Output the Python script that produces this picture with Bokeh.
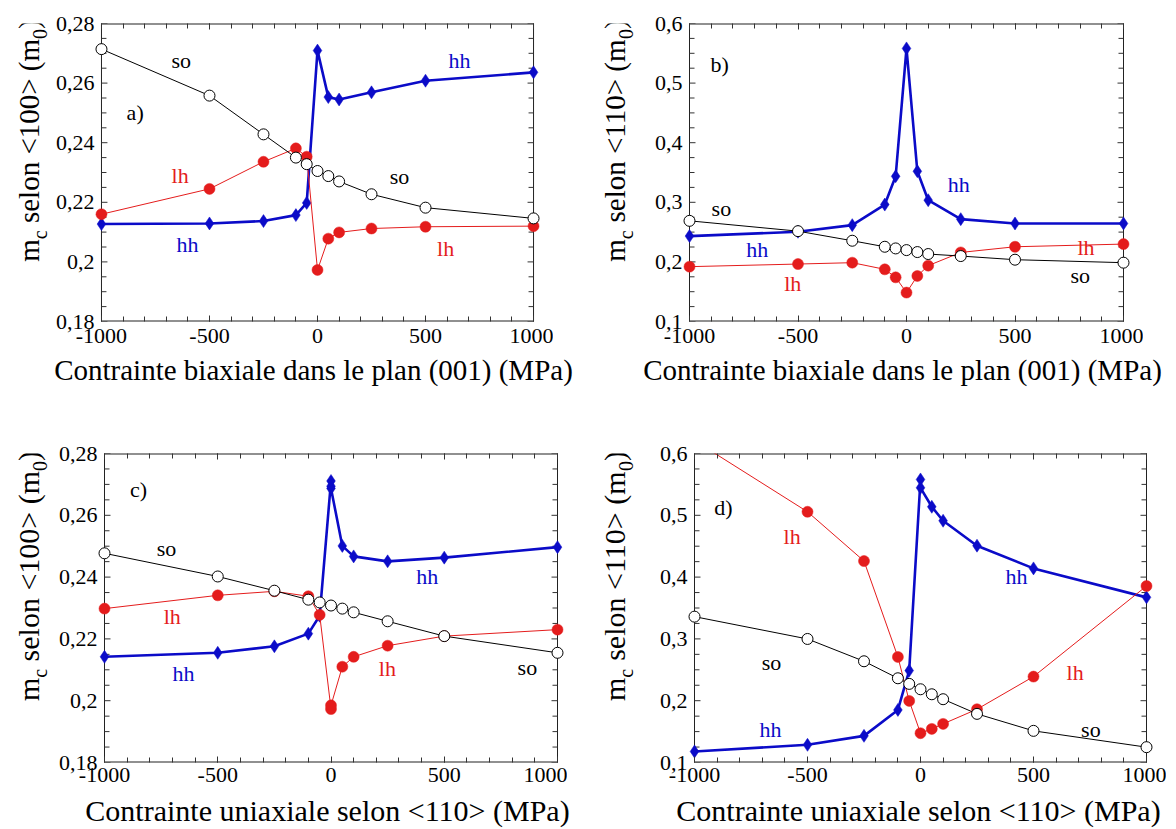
import math
from bokeh.plotting import figure
from bokeh.models import FixedTicker, LinearAxis, Label, CustomJSTickFormatter, Range1d
from bokeh.layouts import column, row
from bokeh.embed import file_html
from bokeh.resources import INLINE

FONT = "Liberation Serif"
BLUE = "#0b0bc8"
RED = "#e41c1c"
FRAME = "#222222"
TICK = "#333333"

# ---------------- data ----------------
stress = [-1000, -500, -250, -100, -50, 0, 50, 100, 250, 500, 1000]

# (a) biaxial stress in (001), mass along <100>
a_so = [0.2714, 0.2558, 0.2428, 0.2350, 0.2328, 0.2305, 0.2288, 0.2270, 0.2227, 0.2182, 0.2146]
a_lh = [0.2160, 0.2245, 0.2336, 0.2381, 0.2353, 0.1973, 0.2078, 0.2099, 0.2112, 0.2118, 0.2120]
a_hh = [0.2127, 0.2129, 0.2137, 0.2157, 0.2198, 0.2709, 0.2553, 0.2545, 0.2569, 0.2608, 0.2636]

# (b) biaxial stress in (001), mass along <110>
b_so = [0.2689, 0.2516, 0.2355, 0.2254, 0.2226, 0.2198, 0.2165, 0.2132, 0.2098, 0.2037, 0.1987]
b_lh = [0.1920, 0.1964, 0.1987, 0.1875, 0.1741, 0.1485, 0.1764, 0.1937, 0.2159, 0.2254, 0.2299]
b_hh = [0.2433, 0.2505, 0.2617, 0.2962, 0.3436, 0.5582, 0.3520, 0.3035, 0.2717, 0.2644, 0.2644]

# (c) uniaxial stress along <110>, mass along <100>
c_so = [0.2477, 0.2402, 0.2356, 0.2327, 0.2318, 0.2308, 0.2298, 0.2286, 0.2257, 0.2209, 0.2155]
c_lh_x = [-1000, -500, -250, -100, -50, 0, 0, 50, 100, 250, 500, 1000]
c_lh = [0.2298, 0.2341, 0.2354, 0.2338, 0.2278, 0.1973, 0.1985, 0.2110, 0.2142, 0.2178, 0.2209, 0.2230]
c_hh_x = [-1000, -500, -250, -100, -50, 0, 0, 0, 50, 100, 250, 500, 1000]
c_hh = [0.2142, 0.2155, 0.2176, 0.2217, 0.2275, 0.2711, 0.2694, 0.2687, 0.2501, 0.2467, 0.2451, 0.2463, 0.2497]

# (d) uniaxial stress along <110>, mass along <110>
d_so = [0.3360, 0.2999, 0.2638, 0.2363, 0.2272, 0.2185, 0.2104, 0.2024, 0.1787, 0.1512, 0.1248]
d_lh = [0.6210, 0.5057, 0.4260, 0.2708, 0.1997, 0.1474, 0.1544, 0.1625, 0.1862, 0.2390, 0.3856]
d_hh_x = [-1000, -500, -250, -100, -50, 0, 0, 50, 100, 250, 500, 1000]
d_hh = [0.1178, 0.1286, 0.1431, 0.1851, 0.2487, 0.5580, 0.5445, 0.5138, 0.4912, 0.4508, 0.4141, 0.3672]

x_lim = (-1000, 1000)
x_major = [-1000, -500, 0, 500, 1000]
x_minor = [-1000, -900, -800, -700, -600, -500, -400, -300, -200, -100, 0,
           100, 200, 300, 400, 500, 600, 700, 800, 900, 1000]
y1_major = [0.18, 0.20, 0.22, 0.24, 0.26, 0.28]
y1_minor = [round(0.18 + 0.005 * i, 3) for i in range(21)]
y2_major = [0.1, 0.2, 0.3, 0.4, 0.5, 0.6]
y2_minor = [round(0.1 + 0.025 * i, 3) for i in range(21)]

title_biax = "Contrainte biaxiale dans le plan (001) (MPa)"
title_uniax = "Contrainte uniaxiale selon <110> (MPa)"

# Times/Liberation Serif advance widths (em) for title placement
WID = {'m': 0.778, 'c': 0.444, ' ': 0.25, 's': 0.389, 'e': 0.444, 'l': 0.278,
       'o': 0.5, 'n': 0.5, '<': 0.564, '>': 0.564, '1': 0.5, '0': 0.5,
       '(': 0.333, ')': 0.333}

PAD = 7  # px of extra frame on left/right so edge markers are not clipped


def tw(s, size):
    return sum(WID[ch] for ch in s) * size


def style_axis(ax, ticker, formatter, labels=True, standoff=7, ticks=True):
    ax.ticker = ticker
    ax.formatter = formatter
    ax.axis_line_color = None
    ax.major_tick_in = 6 if ticks else 0
    ax.major_tick_out = 0
    ax.minor_tick_in = 5 if ticks else 0
    ax.minor_tick_out = 0
    ax.major_tick_line_color = TICK if ticks else None
    ax.minor_tick_line_color = TICK if ticks else None
    ax.major_tick_line_width = 1
    ax.minor_tick_line_width = 1
    ax.major_label_text_font = FONT
    ax.major_label_text_color = "black"
    if labels:
        ax.major_label_text_font_size = "22px"
        ax.major_label_standoff = standoff
    else:
        ax.major_label_text_font_size = "1px"
        ax.major_label_standoff = 0


def blank(w, h):
    f = figure(width=w, height=h, min_border_left=0, min_border_right=0,
               min_border_top=0, min_border_bottom=0,
               x_range=Range1d(0, 1), y_range=Range1d(0, 1),
               x_axis_type=None, y_axis_type=None,
               output_backend="svg", toolbar_location=None, tools="")
    f.outline_line_color = None
    f.background_fill_color = "white"
    f.border_fill_color = "white"
    return f


def panel(wy, ycx, fw, fh, ml, mr, mt, mb, S, standoff,
          yr, ymaj, ymin, mid, notes, series):
    fwe = fw + 2 * PAD
    W = ml + fwe + mr
    H = mt + fh + mb
    ext = PAD * (x_lim[1] - x_lim[0]) / fw
    p = figure(width=W, height=H, min_border_left=ml, min_border_right=mr,
               min_border_top=mt, min_border_bottom=mb,
               x_range=Range1d(x_lim[0] - ext, x_lim[1] + ext), y_range=Range1d(*yr),
               output_backend="svg", toolbar_location=None, tools="")
    p.grid.visible = False
    p.outline_line_color = None
    p.background_fill_color = "white"
    p.border_fill_color = "white"

    xt = FixedTicker(ticks=x_major, minor_ticks=x_minor)
    yt = FixedTicker(ticks=ymaj, minor_ticks=ymin)
    style_axis(p.xaxis[0], xt, CustomJSTickFormatter(code="return String(tick);"),
               standoff=standoff)
    style_axis(p.yaxis[0], yt, CustomJSTickFormatter(
        code="return String(Math.round(tick*100)/100).replace('.', ',');"),
        standoff=max(0, 7 - PAD), ticks=False)
    top = LinearAxis()
    style_axis(top, xt, CustomJSTickFormatter(code="return '';"), labels=False)
    p.add_layout(top, "above")

    # plotting box (frame) and the left/right inside ticks
    dpx = (x_lim[1] - x_lim[0]) / fw
    p.segment(x0=[x_lim[0], x_lim[1]], y0=[yr[0], yr[0]], x1=[x_lim[0], x_lim[1]],
              y1=[yr[1], yr[1]], line_color=FRAME, line_width=1)
    p.segment(x0=[x_lim[0], x_lim[0]], y0=[yr[0], yr[1]], x1=[x_lim[1], x_lim[1]],
              y1=[yr[0], yr[1]], line_color=FRAME, line_width=2)
    tl = [6 if v in ymaj else 5 for v in ymin]
    p.segment(x0=[x_lim[0]] * len(ymin), y0=ymin,
              x1=[x_lim[0] + L * dpx for L in tl], y1=ymin, line_color=TICK, line_width=1)
    p.segment(x0=[x_lim[1]] * len(ymin), y0=ymin,
              x1=[x_lim[1] - L * dpx for L in tl], y1=ymin, line_color=TICK, line_width=1)

    # series: hh (bottom), lh, so (top)
    for xs, ys, kind in series:
        if kind == "hh":
            p.line(xs, ys, line_color=BLUE, line_width=2.6)
            p.scatter(xs, ys, marker="diamond", size=13, fill_color=BLUE,
                      line_color=BLUE, line_width=0.5)
        elif kind == "lh":
            p.line(xs, ys, line_color=RED, line_width=1)
            p.scatter(xs, ys, marker="circle", size=11, fill_color=RED,
                      line_color=RED, line_width=0.5)
        else:
            p.line(xs, ys, line_color="black", line_width=1)
            p.scatter(xs, ys, marker="circle", size=11, fill_color="white",
                      line_color="black", line_width=1)

    for txt, x, y, col in notes:
        p.add_layout(Label(x=x, y=y, text=txt, text_font=FONT, text_font_size="22px",
                           text_color=col, text_align="center", text_baseline="middle"))

    # y title (rotated, with subscripts) in its own strip, each piece centred
    yf = blank(wy, H)
    s = round(S * 0.68)
    sub_dx = 0.3375 * S + 0.28 * S - 0.3375 * s
    pieces = [("m", S, False, 0.0), ("c", s, True, 0.0),
              ("selon " + mid + " (m", S, False, tw(" ", S)),
              ("0", s, True, 0.0), (")", S, False, 0.0)]
    total = sum(tw(t, sz) + gap for t, sz, _, gap in pieces)
    yy = mb + fh / 2 - total / 2
    for t, sz, sub, gap in pieces:
        yy += gap
        w = tw(t, sz)
        yf.add_layout(Label(x=ycx + (sub_dx if sub else 0), y=yy + w / 2,
                            x_units="screen", y_units="screen", text=t,
                            angle=math.pi / 2, text_align="center", text_baseline="middle",
                            text_font=FONT, text_font_size=f"{sz}px", text_color="black"))
        yy += w
    return yf, p


def xtitles(width, height, items):
    f = blank(width, height)
    for text, cx, from_top, S in items:
        f.add_layout(Label(x=cx, y=height - from_top, x_units="screen", y_units="screen",
                           text=text, text_font=FONT, text_font_size=f"{S}px",
                           text_color="black", text_align="center", text_baseline="middle"))
    return f


K = "black"
# box a: x 99..533, y 23..321 ; box b: x 689..1123
ya, pa = panel(52, 28, 434, 298, 99 - PAD - 52, 20 - PAD, 23, 32, 29, 7,
               (0.18, 0.28), y1_major, y1_minor, "<100>",
               [("a)", -844, 0.2502, K), ("so", -631, 0.2675, K), ("lh", -636, 0.2291, RED),
                ("so", 380, 0.2288, K), ("hh", 657, 0.2677, BLUE), ("hh", -602, 0.2060, BLUE),
                ("lh", 593, 0.2045, RED)],
               [(stress, a_hh, "hh"), (stress, a_lh, "lh"), (stress, a_so, "so")])

yb, pb = panel(84, 61, 434, 298, 689 - PAD - 637, 20 - PAD, 23, 32, 29, 7,
               (0.1, 0.6), y2_major, y2_minor, "<110>",
               [("b)", -861, 0.532, K), ("so", -853, 0.2895, K), ("hh", -688, 0.221, BLUE),
                ("lh", -524, 0.164, RED), ("hh", 241, 0.330, BLUE), ("lh", 827, 0.2243, RED),
                ("so", 801, 0.1764, K)],
               [(stress, b_hh, "hh"), (stress, b_lh, "lh"), (stress, b_so, "so")])

# box c: x 104..557, y 453..762 ; box d: x 694..1146
yc, pc = panel(52, 28, 453, 309, 104 - PAD - 52, 10 - PAD, 60, 32, 30, 5,
               (0.18, 0.28), y1_major, y1_minor, "<100>",
               [("c)", -850, 0.2682, K), ("so", -726, 0.2494, K), ("lh", -701, 0.2273, RED),
                ("hh", -651, 0.2088, BLUE), ("hh", 425, 0.2402, BLUE), ("lh", 249, 0.2103, RED),
                ("so", 867, 0.2106, K)],
               [(c_hh_x, c_hh, "hh"), (c_lh_x, c_lh, "lh"), (stress, c_so, "so")])

yd, pd_ = panel(73, 47, 452, 309, 694 - PAD - 640, 20 - PAD, 60, 32, 30, 5,
                (0.1, 0.6), y2_major, y2_minor, "<110>",
                [("d)", -872, 0.5127, K), ("lh", -568, 0.4653, RED), ("so", -659, 0.2616, K),
                 ("hh", -664, 0.1528, BLUE), ("hh", 425, 0.4017, BLUE), ("lh", 684, 0.2455, RED),
                 ("so", 754, 0.1539, K)],
                [(d_hh_x, d_hh, "hh"), (stress, d_lh, "lh"), (stress, d_so, "so")])

xt1 = xtitles(1166, 40, [(title_biax, 313, 16, 29), (title_biax, 902, 16, 29)])
xt2 = xtitles(1166, 34, [(title_uniax, 327, 16, 30), (title_uniax, 918, 16, 30)])

layout = column(row(ya, pa, yb, pb), xt1, row(yc, pc, yd, pd_), xt2)
open("out.html", "w").write(file_html(layout, INLINE))
